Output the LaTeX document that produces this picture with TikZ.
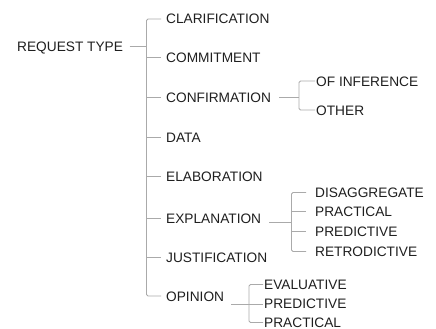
\documentclass[tikz,border=0pt]{standalone}
\usepackage{fontspec}
\setmainfont{Liberation Sans}
\definecolor{txt}{HTML}{1F1F1F}
\definecolor{lnc}{HTML}{AAAAAA}
\begin{document}
\begin{tikzpicture}[x=1pt,y=-1pt,
  lbl/.style={anchor=west,inner sep=0pt,text height=10pt,text depth=0pt,text=txt,font=\fontsize{13.7}{16}\selectfont},
  conn/.style={draw=lnc,line width=0.9pt,rounded corners=1.5pt}]
\useasboundingbox[fill=white] (0,0) rectangle (436,329);
% root
\node[lbl] (rt) at (17,46.5) {REQUEST TYPE};
% level 1
\node[lbl] (c1) at (166,19) {CLARIFICATION};
\node[lbl] (c2) at (166,57.5) {COMMITMENT};
\node[lbl] (c3) at (166,97) {CONFIRMATION};
\node[lbl] (c4) at (166,137) {DATA};
\node[lbl] (c5) at (166,176) {ELABORATION};
\node[lbl] (c6) at (166,218.5) {EXPLANATION};
\node[lbl] (c7) at (166,257) {JUSTIFICATION};
\node[lbl] (c8) at (166,296) {OPINION};
% confirmation children
\node[lbl] (s31) at (316,81) {OF INFERENCE};
\node[lbl] (s32) at (316,110) {OTHER};
% explanation children
\node[lbl] (s61) at (315,192.5) {DISAGGREGATE};
\node[lbl] (s62) at (315,211.5) {PRACTICAL};
\node[lbl] (s63) at (315,231.5) {PREDICTIVE};
\node[lbl] (s64) at (315,251.5) {RETRODICTIVE};
% opinion children
\node[lbl] (s81) at (264,284.5) {EVALUATIVE};
\node[lbl] (s82) at (264,303.5) {PREDICTIVE};
\node[lbl] (s83) at (264,322.5) {PRACTICAL};
% main tree
\coordinate (j0) at (146.5,46.5);
\draw[conn] ([xshift=6.5pt]rt.east) -- (j0);
\draw[conn] ([xshift=-5pt]c1.west) -| (j0) |- ([xshift=-5pt]c8.west);
\foreach \c in {c2,c3,c4,c5,c6,c7}
  \draw[conn] (j0 |- \c.west) -- ([xshift=-5pt]\c.west);
% confirmation
\coordinate (j3) at (299,97);
\draw[conn] ([xshift=8pt]c3.east) -- (j3);
\draw[conn] ([xshift=-1pt]s31.west) -| (j3) |- ([xshift=-1pt]s32.west);
% explanation
\coordinate (j6) at (291.5,222.5);
\draw[conn] ([xshift=8pt]c6.east |- j6) -- (j6);
\draw[conn] ([xshift=-9pt]s61.west) -| (j6) |- ([xshift=-9pt]s64.west);
\foreach \c in {s62,s63}
  \draw[conn] (j6 |- \c.west) -- ([xshift=-9pt]\c.west);
% opinion
\coordinate (j8) at (249,304);
\draw[conn] ([xshift=7pt]c8.east |- j8) -- (j8);
\draw[conn] ([xshift=-1pt]s81.west) -| (j8) |- ([xshift=-1pt]s83.west);
\draw[conn] (j8) -- ([xshift=-1pt]s82.west |- j8);
\end{tikzpicture}
\end{document}
